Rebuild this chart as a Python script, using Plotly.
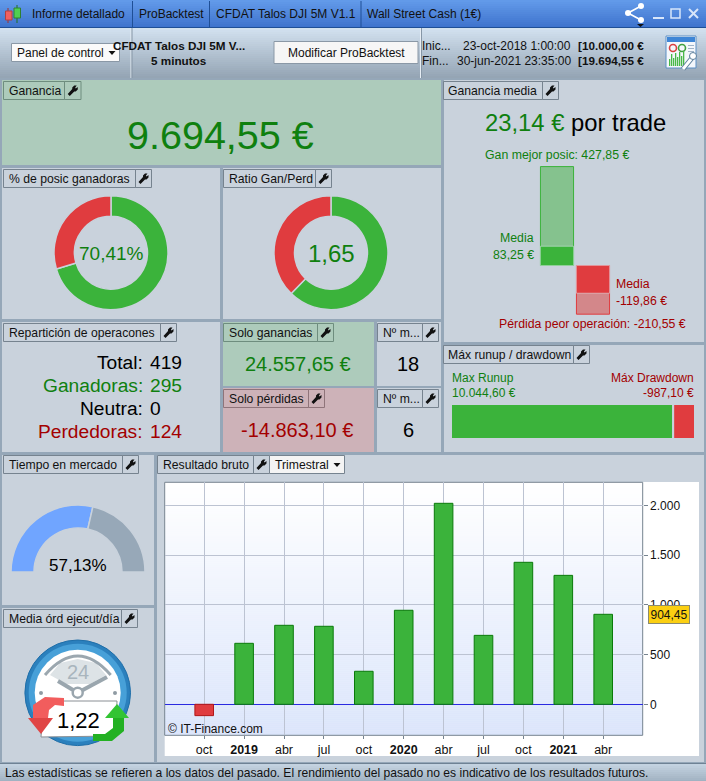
import plotly.graph_objects as go

W, H = 706, 781
FONT = "Liberation Sans, Arial, sans-serif"

# ---------- data ----------
quarters = ["2018-10", "2019-01", "2019-04", "2019-07", "2019-10", "2020-01",
            "2020-04", "2020-07", "2020-10", "2021-01", "2021-04"]
quarter_labels = ["oct", "<b>2019</b>", "abr", "jul", "oct", "<b>2020</b>",
                  "abr", "jul", "oct", "<b>2021</b>", "abr"]
quarter_result = [-114, 613, 794, 784, 332, 945, 2020, 693, 1427, 1296, 904.45]
y_ticks = [0, 500, 1000, 1500, 2000]
y_tick_labels = ["0", "500", "1.000", "1.500", "2.000"]
last_label = "904,45"

win_loss_counts = [295, 124]
gain_loss_amounts = [24557.65, 14863.10]
market_time = [57.13, 42.87]
market_hidden = [100]
extreme_trades = [427.85, -210.55]
mean_trades = [83.25, -119.86]
runup = [10044.60]
drawdown = [987.10]

GREEN, RED = "#3bb33b", "#e03c3f"
TXT_G, TXT_R = "#0f800f", "#a30000"
PANEL, LINE = "#c9d2dc", "#95a7b8"
BOXLINE = "#76838f"

shapes, annos = [], []
fx = lambda p: p / W
fy = lambda p: 1 - p / H


def rect(x0, y0, x1, y1, fill, line=None, lw=1):
    shapes.append(dict(type="rect", xref="paper", yref="paper", x0=fx(x0), x1=fx(x1),
                       y0=fy(y0), y1=fy(y1), fillcolor=fill, layer="below",
                       line=dict(color=line or "rgba(0,0,0,0)", width=lw if line else 0)))


def circle(cx, cy, r, fill, line=None, lw=1):
    shapes.append(dict(type="circle", xref="paper", yref="paper", x0=fx(cx - r), x1=fx(cx + r),
                       y0=fy(cy - r), y1=fy(cy + r), fillcolor=fill, layer="below",
                       line=dict(color=line or "rgba(0,0,0,0)", width=lw if line else 0)))


def path(cmds, fill="rgba(0,0,0,0)", line=None, lw=1):
    """cmds: list of (letter, x, y, ...) in pixels"""
    out = []
    for c in cmds:
        if c[0] == "Z":
            out.append("Z")
            continue
        pts = c[1:]
        s = c[0]
        for i in range(0, len(pts), 2):
            s += f" {fx(pts[i]):.5f},{fy(pts[i + 1]):.5f}"
        out.append(s)
    shapes.append(dict(type="path", xref="paper", yref="paper", path=" ".join(out), fillcolor=fill,
                       layer="below", line=dict(color=line or "rgba(0,0,0,0)", width=lw if line else 0)))


def poly(points, fill, line=None, lw=1):
    cmds = [("M", *points[0])] + [("L", *p) for p in points[1:]] + [("Z",)]
    path(cmds, fill, line, lw)


def hexmix(a, b, t):
    a = [int(a[i:i + 2], 16) for i in (1, 3, 5)]
    b = [int(b[i:i + 2], 16) for i in (1, 3, 5)]
    return "#%02x%02x%02x" % tuple(round(p + (q - p) * t) for p, q in zip(a, b))


def gradient(x0, y0, x1, y1, c0, c1, step=2):
    y = y0
    while y < y1:
        rect(x0, y, x1, min(y + step + 0.5, y1), hexmix(c0, c1, (y - y0) / max(1, y1 - y0)))
        y += step


def text(x, y, s, size=12, color="#111111", anchor="left"):
    annos.append(dict(xref="paper", yref="paper", x=fx(x), y=fy(y), text=s, showarrow=False,
                      xanchor=anchor, yanchor="middle", borderpad=0,
                      font=dict(family=FONT, size=size, color=color)))


def wrench(cx, cy, color="#111111"):
    pts = [(-5, 3.5), (-0.5, -1.5), (-0.5, -3), (1.5, -5), (4, -5), (2.5, -3), (3, -2),
           (5, -3.5), (5, -1), (3, 1), (1.5, 1), (-3, 5.5)]
    poly([(cx + a, cy + b) for a, b in pts], color)


def tab(x0, xm, x1, y0, y1, label, line=BOXLINE):
    rect(x0, y0, xm, y1, "rgba(0,0,0,0)", line)
    rect(xm, y0, x1, y1, "rgba(0,0,0,0)", line)
    text(x0 + 4, (y0 + y1) / 2 + 0.5, label, 12.2)
    wrench((xm + x1) / 2, (y0 + y1) / 2)


def caret(cx, cy, color="#111111"):
    poly([(cx - 3.5, cy - 2), (cx + 3.5, cy - 2), (cx, cy + 2)], color)


# ---------- page & bars ----------
rect(0, 0, W, H, LINE)
gradient(0, 0, W, 27, "#629ae9", "#3d72cc")
gradient(0, 28, W, 78, "#d2e1ef", "#92a2b2")
rect(0, 27, W, 28, "#1f4f96")
for x in (132, 209, 360.5):
    rect(x, 1, x + 1, 27, "#1f4f96")
for label, x in (("Informe detallado", 31), ("ProBacktest", 138), ("CFDAT Talos DJI 5M V1.1", 215),
                 ("Wall Street Cash (1€)", 366)):
    text(x, 14, label, 12)
# logo candles
rect(7.5, 8, 8.5, 23, "#a03030")
rect(5.5, 11, 12, 20, "#f06060", "#b04040")
rect(16.5, 5, 17.5, 23, "#207020")
rect(14, 8, 20.5, 18, "#50d050", "#308030")
# window icons
ICON = "#d8e6fa"
for a, b in (((628, 13), (641, 6)), ((628, 13), (641, 20))):
    path([("M", *a), ("L", *b)], line="#ffffff", lw=1.5)
for c in ((628, 13), (641, 6), (641, 20)):
    circle(*c, 3, "#ffffff")
poly([(637, 24), (644, 24), (640.5, 27)], "#111111")
rect(653, 17, 664, 19, ICON)
rect(671, 9, 680, 18, "rgba(0,0,0,0)", ICON, 1.5)
path([("M", 689, 9), ("L", 698, 18)], line=ICON, lw=2)
path([("M", 698, 9), ("L", 689, 18)], line=ICON, lw=2)
for x in (130.5, 420):
    rect(x, 28, x + 1, 78, "#e6edf4")
    rect(x + 1, 28, x + 2, 78, "#8696a6")
# toolbar controls
rect(11.5, 43.5, 119.5, 61.5, "#fafafa", "#8a98a6")
text(16, 53, "Panel de control", 12)
caret(112, 53)
text(179, 46, "<b>CFDAT Talos DJI 5M V...</b>", 11.7, anchor="center")
text(179, 60.5, "<b>5 minutos</b>", 11.7, anchor="center")
rect(274, 41.5, 418, 63.5, "#f6f6f6", "#8a98a6")
text(346, 53, "Modificar ProBacktest", 12, anchor="center")
text(421, 46, "Inic...", 12)
text(421, 60.5, "Fin...", 12)
text(572, 46, "23-oct-2018 1:00:00", 12, anchor="right")
text(572, 60.5, "30-jun-2021 23:35:00", 12, anchor="right")
text(577, 46, "<b>[10.000,00 €</b>", 11.7)
text(577, 60.5, "<b>[19.694,55 €</b>", 11.7)
# report icon
rect(666, 36, 696, 68, "#f4f7fb", "#5c8fc4")
rect(667, 37, 695, 42, "#3f86d6")
circle(673, 48, 3.5, "rgba(0,0,0,0)", "#d94040", 1.6)
circle(682, 48, 3.5, "rgba(0,0,0,0)", "#40a040", 1.6)
for i, x in enumerate(range(669, 684, 2)):
    rect(x, 64 - (5 + (i * 5) % 9), x + 1.3, 66, "#48b848")
for y in (45, 48, 51):
    rect(688, y, 694, y + 1, "#a0b4c8")
path([("M", 683, 69), ("L", 692, 58)], line="#5c7f9c", lw=5)
path([("M", 683, 69), ("L", 692, 58)], line="#ffffff", lw=3)
circle(693, 56, 3.5, "#ffffff", "#5c7f9c")

# ---------- panels ----------
GPANEL, RPANEL = "#adcbbb", "#cdb2b8"
for p, c in (((2, 80, 441, 165), GPANEL), ((2, 168, 220, 319), PANEL), ((223, 168, 441, 319), PANEL),
             ((444, 80, 704, 342), PANEL), ((444, 345, 704, 452), PANEL),
             ((2, 322, 220, 452), PANEL), ((223, 322, 374, 386), GPANEL), ((223, 388, 374, 452), RPANEL),
             ((377, 322, 441, 386), PANEL), ((377, 388, 441, 452), PANEL),
             ((2, 455, 154, 605), PANEL), ((2, 608, 154, 762), PANEL), ((157, 455, 704, 762), PANEL)):
    rect(p[0], p[1], p[2], p[3], c)
gradient(0, 764, W, 781, "#c3d2e0", "#9fb0c0")
rect(0, 763, W, 764, "#6f8294")
text(4, 772.5, "Las estadísticas se refieren a los datos del pasado. El rendimiento del pasado no es "
               "indicativo de los resultados futuros.", 12.1)

tab(3.5, 64.5, 81, 81.5, 99.5, "Ganancia", "#6e8d7e")
tab(3.5, 135.5, 151.5, 169.5, 187.5, "% de posic ganadoras")
tab(223.5, 315.5, 331.5, 169.5, 187.5, "Ratio Gan/Perd")
tab(3.5, 160.5, 176.5, 323.5, 341.5, "Repartición de operacones")
tab(223.5, 317.5, 333.5, 323.5, 341.5, "Solo ganancias", "#6e8d7e")
tab(223.5, 308.5, 324.5, 389.5, 407.5, "Solo pérdidas", "#8f747a")
tab(377.5, 422.5, 438.5, 323.5, 341.5, "Nº m...")
tab(377.5, 422.5, 438.5, 389.5, 407.5, "Nº m...")
tab(443.5, 542.5, 558.5, 81.5, 99.5, "Ganancia media")
tab(443.5, 573.5, 589.5, 345.5, 363.5, "Máx runup / drawdown")
tab(3.5, 122.5, 138.5, 455.5, 473.5, "Tiempo en mercado")
tab(3.5, 121.5, 137.5, 609.5, 627.5, "Media órd ejecut/día")
tab(157.5, 253.5, 269.5, 455.5, 473.5, "Resultado bruto")
rect(269.5, 455.5, 344.5, 473.5, "#f4f4f4", BOXLINE)
text(274, 464.5, "Trimestral", 12.2)
caret(337, 465)

# panel texts
text(221, 135, "9.694,55 €", 39.5, TXT_G, "center")
text(575, 123, f'<span style="color:{TXT_G}">23,14 €</span> por trade', 23.8, "#000000", "center")
text(556.7, 155, "Gan mejor posic: 427,85 €", 12.3, TXT_G, "center")
text(535, 238, "Media", 12.3, TXT_G, "right")
text(535, 254.5, "83,25 €", 12.3, TXT_G, "right")
text(614.7, 284, "Media", 12.3, TXT_R)
text(614.7, 301, "-119,86 €", 12.3, TXT_R)
text(592.7, 324, "Pérdida peor operación: -210,55 €", 12.3, TXT_R, "center")
text(451, 378, "Max Runup", 12, TXT_G)
text(451, 393, "10.044,60 €", 12, TXT_G)
text(695, 378, "Máx Drawdown", 12, TXT_R, "right")
text(695, 393, "-987,10 €", 12, TXT_R, "right")
text(111, 253, "70,41%", 19, TXT_G, "center")
text(331, 253, "1,65", 24, TXT_G, "center")
for y, lab, val, col in ((362.5, "Total:", "419", "#000000"), (385.5, "Ganadoras:", "295", TXT_G),
                         (408.5, "Neutra:", "0", "#000000"), (431.5, "Perdedoras:", "124", TXT_R)):
    text(144, y, lab, 19.2, col, "right")
    text(149, y, val, 19.2, col)
text(298, 364, "24.557,65 €", 20, TXT_G, "center")
text(297, 430, "-14.863,10 €", 20, TXT_R, "center")
text(408, 364, "18", 20, "#000000", "center")
text(408, 430, "6", 20, "#000000", "center")
text(78, 565, "57,13%", 17, "#000000", "center")

# ---------- dial ----------
DC = (77.7, 692.8)
circle(*DC, 52.8, "#2b80bd", "#1f6ea8")
circle(*DC, 49, "#47a0d8")
circle(*DC, 43, "#ffffff")
poly([(50, 675), (60, 663), (77.7, 659), (96, 663), (106, 675), (90, 684), (66, 684)], "#dde3e6")
path([("M", 45, 675), ("Q", 77.7, 637, 110.7, 675)], line="#9ba7af", lw=3)
text(77.7, 672, "24", 20, "#a9b5bd", "center")
circle(41, 693, 2, "#8f9ba3")
circle(115, 693, 2, "#8f9ba3")
path([("M", 77.7, 692.7), ("L", 58, 681)], line="#9aa6ae", lw=4)
path([("M", 77.7, 692.7), ("L", 107, 677)], line="#9aa6ae", lw=4)
circle(77.7, 692.7, 5, "#ffffff", "#9aa6ae", 2.5)
poly([(44, 701), (117, 701), (116, 736), (41, 737)], "#ffffff", "#8a8f94")
poly([(33, 718), (33, 705), (45, 697), (64, 698), (64, 706), (55, 705), (49, 710), (48, 718)], "#f25d5d")
poly([(28, 718), (53, 718), (41, 734)], "#e04545")
poly([(113, 718), (124, 718), (124, 731), (112, 741), (93, 741), (93, 734), (105, 734), (113, 728)], "#23b123")
poly([(105, 718), (129, 718), (117, 704)], "#33c433")
text(78, 720, "1,22", 22, "#000000", "center")

# ---------- main chart area ----------
PX0, PX1, PY0, PY1 = 164.7, 642.7, 482.3, 735.3
rect(164.7, 482, 699, 756, "#ffffff")
gradient(PX0, PY0, PX1, PY1, "#ffffff", "#dbe5fb")
rect(PX0, PY0, PX1, PY1, "rgba(0,0,0,0)", "#76838f")
text(167, 729, "© IT-Finance.com", 12, "#111111")

ZERO_PX, PX_PER = 704.3, 0.0995


def dom_x(a, b):
    return [fx(a), fx(b)]


def dom_y(top, bottom):
    return [fy(bottom), fy(top)]


fig = go.Figure()

# main quarterly bars
fig.add_trace(go.Bar(
    x=quarters, y=quarter_result, width=0.466, xaxis="x", yaxis="y",
    marker=dict(color=[GREEN if v >= 0 else RED for v in quarter_result],
                line=dict(color=["#0a7a0a" if v >= 0 else "#b01818" for v in quarter_result], width=1)),
    hoverinfo="skip", showlegend=False))

# average-gain panel
slot = ["Ganancia", "Pérdida"]
fig.add_trace(go.Bar(
    x=slot, y=extreme_trades, width=0.92, xaxis="x2", yaxis="y2",
    marker=dict(color=["#85c28e", "#d3878a"], line=dict(color=[GREEN, RED], width=1)),
    hoverinfo="skip", showlegend=False))
fig.add_trace(go.Bar(
    x=slot, y=mean_trades, width=0.92, xaxis="x2", yaxis="y2",
    marker=dict(color=[GREEN, RED]), hoverinfo="skip", showlegend=False))

# runup / drawdown
fig.add_trace(go.Bar(
    y=["r"], x=runup, orientation="h", width=1, xaxis="x3", yaxis="y3",
    marker=dict(color=GREEN, line=dict(color=PANEL, width=2)), hoverinfo="skip", showlegend=False))
fig.add_trace(go.Bar(
    y=["r"], x=drawdown, base=runup, orientation="h", width=1, xaxis="x3", yaxis="y3",
    marker=dict(color=RED, line=dict(color=PANEL, width=2)), hoverinfo="skip", showlegend=False))


def pie(cx, cy, r, values, colors, rotation=0, hole=0.64, linecolors=None):
    fig.add_trace(go.Pie(
        values=values, sort=False, direction="clockwise", rotation=rotation, hole=hole,
        domain=dict(x=[fx(cx - r), fx(cx + r)], y=[fy(cy + r), fy(cy - r)]),
        marker=dict(colors=colors, line=dict(color=linecolors or PANEL, width=1.5)),
        textinfo="none", hoverinfo="skip", showlegend=False))


pie(111, 252.7, 57, win_loss_counts, [GREEN, RED])
pie(331, 252.7, 57, gain_loss_amounts, [GREEN, RED])
pie(78, 572, 67, market_time + market_hidden, ["#70a5ff", "#97a8b8", "rgba(0,0,0,0)"], rotation=270,
    hole=0.657, linecolors=[PANEL, PANEL, "rgba(0,0,0,0)"])

hidden = dict(visible=False, fixedrange=True)
rng_x = (PX0 - 204.2) / 39.9, (PX1 - 204.2) / 39.9
fig.update_layout(
    width=W, height=H, margin=dict(l=0, r=0, t=0, b=0, pad=0, autoexpand=False),
    paper_bgcolor="rgba(0,0,0,0)", plot_bgcolor="rgba(0,0,0,0)",
    barmode="overlay", font=dict(family=FONT, size=12, color="#111111"),
    shapes=shapes,
    xaxis=dict(domain=dom_x(PX0, PX1), range=list(rng_x), type="category",
               categoryorder="array", categoryarray=quarters,
               tickmode="array", tickvals=quarters, ticktext=quarter_labels,
               ticks="outside", ticklen=3, tickcolor="#76838f", showgrid=True, gridcolor="#bcc3d2",
               gridwidth=1, showline=False, tickfont=dict(size=12.5, color="#111111"), fixedrange=True, anchor="y"),
    yaxis=dict(domain=dom_y(PY0, PY1),
               range=[(ZERO_PX - PY1) / PX_PER, (ZERO_PX - PY0) / PX_PER], side="right",
               tickmode="array", tickvals=y_ticks, ticktext=y_tick_labels,
               ticks="outside", ticklen=4, tickcolor="#76838f", showgrid=True, gridcolor="#bcc3d2",
               gridwidth=1, zeroline=True, zerolinecolor="#2a2ae0", zerolinewidth=1,
               tickfont=dict(size=12, color="#111111"), fixedrange=True, anchor="x"),
    xaxis2=dict(domain=dom_x(530, 620), range=[(530 - 557) / 36, (620 - 557) / 36], type="category",
                categoryorder="array", categoryarray=slot, anchor="y2", **hidden),
    yaxis2=dict(domain=dom_y(160, 320), range=[-(320 - 265.5) / 0.2312, (265.5 - 160) / 0.2312],
                anchor="x2", **hidden),
    xaxis3=dict(domain=dom_x(450, 696), anchor="y3",
                range=[-1 / 0.02212, (runup[0] + drawdown[0]) + 1 / 0.02212], **hidden),
    yaxis3=dict(domain=dom_y(404, 439), range=[-0.5, 0.5], type="category", anchor="x3", **hidden),
)

# value tag on the last quarter
tag_value = quarter_result[-1]
annos.append(dict(xref="paper", yref="y", x=fx(668.5), y=tag_value, text=last_label, showarrow=False,
                  xanchor="center", yanchor="middle", bgcolor="#fbcf12", bordercolor="#8a8a70",
                  borderwidth=1, borderpad=1.5, font=dict(family=FONT, size=12, color="#111111")))
fig.update_layout(annotations=annos)

fig.write_html("out.html", config=dict(displayModeBar=False, staticPlot=True),
               post_script="document.body.style.margin='0';document.documentElement.style.overflow='hidden';")
